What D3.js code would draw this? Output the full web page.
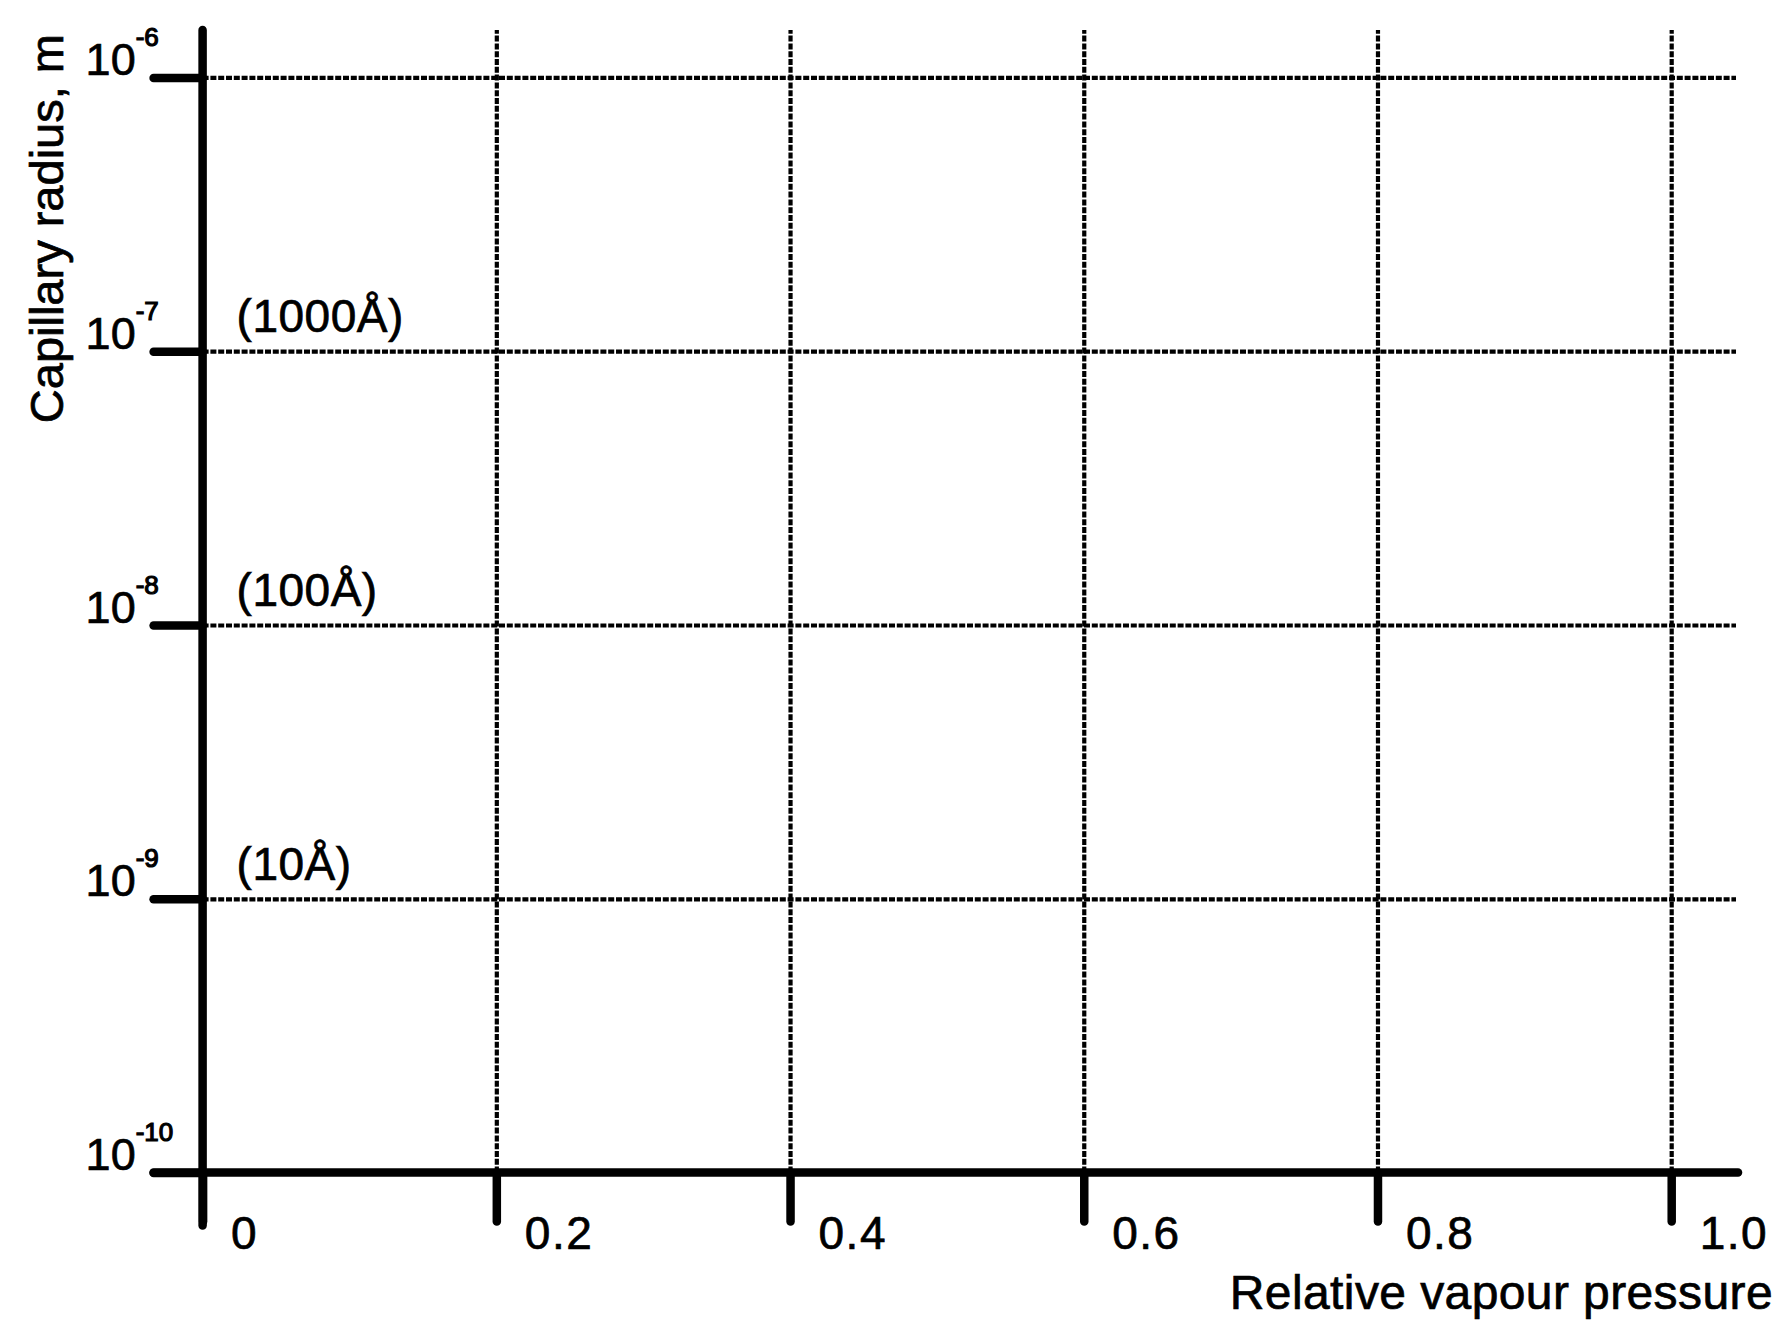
<!DOCTYPE html>
<html>
<head>
<meta charset="utf-8">
<script src="https://cdnjs.cloudflare.com/ajax/libs/d3/7.8.5/d3.min.js"></script>
<style>
  body { margin: 0; background: #fff; }
  svg text { font-family: "Liberation Sans", Arial, Helvetica, sans-serif; fill: #000; stroke: #000; stroke-width: 0.7px; }
  .grid line { stroke: #000; stroke-width: 4.2; stroke-dasharray: 6,1.8; }
  .grid .domain { display: none; }
  .axis line, .axis path { stroke: #000; stroke-width: 8.5; stroke-linecap: round; }
</style>
</head>
<body>
<svg id="chart"></svg>
<script>
/* data */
var xTicks = [0, 0.2, 0.4, 0.6, 0.8, 1.0];
var xTickLabels = ["0", "0.2", "0.4", "0.6", "0.8", "1.0"];
var yTicks = [1e-10, 1e-9, 1e-8, 1e-7, 1e-6];
var yExponents = ["-10", "-9", "-8", "-7", "-6"];
var sizeValues = [1e-7, 1e-8, 1e-9];
var sizeLabels = ["(1000Å)", "(100Å)", "(10Å)"];
var xTitle = "Relative vapour pressure";
var yTitle = "Capillary radius, m";

/* settings */
var width = 1785,
    height = 1329,
    x0 = 202.6, x1 = 1671.2,   // plot positions of 0 and 1.0
    y0 = 1172.6, y1 = 77.4,    // plot positions of 1e-10 and 1e-6
    gridRight = 1736,
    axisTop = 30,
    tickLen = 49;

var svg = d3.select("#chart")
    .attr("width", width)
    .attr("height", height);

var xScale = d3.scaleLinear().domain([0, 1]).range([x0, x1]);
var yScale = d3.scaleLog().domain([1e-10, 1e-6]).range([y0, y1]);

/* grid lines (wavy dotted in the original) */
svg.append("g")
    .attr("class", "grid")
    .attr("transform", "translate(" + x0 + ",0)")
    .call(d3.axisLeft(yScale).tickValues(yTicks.slice(1)).tickFormat("")
        .tickSize(-(gridRight - x0)).tickSizeOuter(0));

svg.append("g")
    .attr("class", "grid")
    .attr("transform", "translate(0," + y0 + ")")
    .call(d3.axisBottom(xScale).tickValues(xTicks.slice(1)).tickFormat("")
        .tickSize(-(y0 - axisTop)).tickSizeOuter(0));

/* y axis */
var yAxisG = svg.append("g")
    .attr("class", "axis")
    .attr("transform", "translate(" + x0 + ",0)")
    .call(d3.axisLeft(yScale).tickValues(yTicks).tickSize(tickLen).tickSizeOuter(0)
        .tickFormat(function(d, i) { return ""; }));

yAxisG.select(".domain").remove();
yAxisG.append("line")
    .attr("x1", 0).attr("x2", 0)
    .attr("y1", axisTop).attr("y2", y0 + tickLen + 4);

yAxisG.selectAll(".tick text")
    .attr("x", -117)
    .attr("y", -3)
    .attr("dy", 0)
    .style("text-anchor", "start")
    .style("font-size", "45px")
    .each(function(d, i) {
        var t = d3.select(this);
        t.append("tspan").text("10");
        t.append("tspan")
            .attr("dx", 0)
            .attr("dy", -29)
            .style("font-size", "26px")
            .style("stroke-width", "1.2px")
            .text(yExponents[i]);
    });

/* x axis */
var xAxisG = svg.append("g")
    .attr("class", "axis")
    .attr("transform", "translate(0," + y0 + ")")
    .call(d3.axisBottom(xScale).tickValues(xTicks).tickSize(tickLen).tickSizeOuter(0)
        .tickFormat(function(d, i) { return xTickLabels[i]; }));

xAxisG.select(".domain").remove();
xAxisG.append("line")
    .attr("x1", x0 - tickLen).attr("x2", gridRight + 2)
    .attr("y1", 0).attr("y2", 0);

xAxisG.selectAll(".tick text")
    .attr("x", 28)
    .attr("y", 76)
    .attr("dy", 0)
    .style("text-anchor", "start")
    .style("font-size", "46px")
    .style("letter-spacing", "1.5px");

/* pore size annotations */
svg.append("g").selectAll("text")
    .data(sizeValues)
    .enter()
    .append("text")
        .attr("x", x0 + 34)
        .attr("y", function(d) { return yScale(d) - 19; })
        .style("font-size", "46px")
        .style("letter-spacing", "0.5px")
        .text(function(d, i) { return sizeLabels[i]; });

/* axis titles */
svg.append("text")
    .attr("x", 1773)
    .attr("y", 1309)
    .style("text-anchor", "end")
    .style("font-size", "48px")
    .style("letter-spacing", "0.4px")
    .text(xTitle);

svg.append("text")
    .attr("transform", "translate(63,34) rotate(-90)")
    .style("text-anchor", "end")
    .style("font-size", "47px")
    .text(yTitle);
</script>
</body>
</html>
